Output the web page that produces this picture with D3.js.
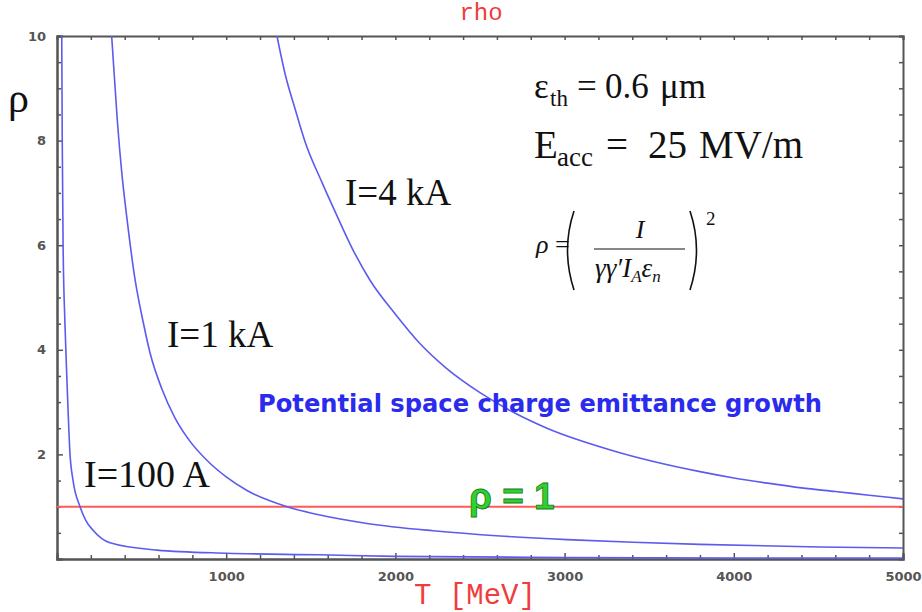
<!DOCTYPE html>
<html>
    <head>
        <script src="https://d3js.org/d3.v7.min.js"></script>
        <style>
            body {
                margin: 0;
                overflow: hidden;
                background: #fff;
            }
            .tick text {
                font-family: 'DejaVu Sans', sans-serif;
                font-weight: bold;
                font-size: 13px;
                fill: #555;
            }
            .domain, .tick line {
                stroke: #555;
            }
        </style>
    </head>
    <body>
        <script>
            // values
            const xMajor = [1000, 2000, 3000, 4000, 5000];
            const yMajor = [2, 4, 6, 8, 10];

            const T100 = [28, 31, 36, 47, 59, 77, 95, 136, 170, 213, 313, 591, 1004, 1554, 2000, 3000, 4000, 5000];
            const rho100 = [10, 8, 6, 4.5, 3.4, 2.0, 1.5, 1.0, 0.74, 0.55, 0.31, 0.17, 0.11, 0.08, 0.05, 0.03, 0.02, 0.02];

            const T1k = [323, 355, 384, 412, 461, 508, 550, 620, 697, 768, 904, 1000, 1123, 1360, 1554, 1832, 2222, 2618, 3014, 3404, 3800, 4510, 5000];
            const rho1k = [10, 8.45, 7.35, 6.55, 5.35, 4.55, 3.94, 3.25, 2.7, 2.33, 1.83, 1.57, 1.31, 1.0, 0.84, 0.68, 0.54, 0.44, 0.37, 0.32, 0.28, 0.23, 0.21];

            const T4k = [1300, 1350, 1406, 1466, 1566, 1655, 1743, 1850, 2000, 2145, 2300, 2500, 2700, 2896, 3286, 3800, 4000, 4200, 4400, 4600, 4800, 5000];
            const rho4k = [10, 9.25, 8.62, 7.98, 7.2, 6.56, 5.95, 5.33, 4.68, 4.12, 3.65, 3.18, 2.8, 2.5, 2.07, 1.67, 1.55, 1.45, 1.36, 1.29, 1.22, 1.15];

            const rhoLimit = [1, 1];
            const limitT = [0, 5000];

            const width = 922;
            const height = 612;
            const margin = { top: 36, right: 19, bottom: 53, left: 57 };

            const svg = d3.select('body').append('svg').attr('width', width).attr('height', height);

            const x = d3.scaleLinear().domain([0, 5000]).range([margin.left, width - margin.right]);
            const y = d3.scaleLinear().domain([0, 10]).range([height - margin.bottom, margin.top]);

            svg.append('defs').append('clipPath').attr('id', 'plot')
                .append('rect')
                .attr('x', margin.left).attr('y', margin.top)
                .attr('width', width - margin.left - margin.right)
                .attr('height', height - margin.top - margin.bottom);

            const xMinor = d3.range(200, 5000, 200).filter((v) => v % 1000 !== 0);
            const yMinor = d3.range(0.5, 10, 0.5).filter((v) => v % 2 !== 0);

            // frame with inward ticks on all four sides
            const frame = svg.append('g');
            frame.append('g').attr('transform', `translate(0,${y(0)})`)
                .call(d3.axisBottom(x).tickValues(xMajor).tickSize(-6).tickPadding(13).tickFormat(d3.format('d')));
            frame.append('g').attr('transform', `translate(0,${y(0)})`)
                .call(d3.axisBottom(x).tickValues(xMinor).tickSize(-4).tickFormat(''));
            frame.append('g').attr('transform', `translate(0,${y(10)})`)
                .call(d3.axisTop(x).tickValues(xMajor.concat(xMinor)).tickSize(-4).tickFormat(''));
            frame.append('g').attr('transform', `translate(${x(0)},0)`)
                .call(d3.axisLeft(y).tickValues(yMajor).tickSize(-6).tickPadding(11).tickFormat(d3.format('d')));
            frame.append('g').attr('transform', `translate(${x(0)},0)`)
                .call(d3.axisLeft(y).tickValues(yMinor).tickSize(-4).tickFormat(''));
            frame.append('g').attr('transform', `translate(${x(5000)},0)`)
                .call(d3.axisRight(y).tickValues(yMajor.concat(yMinor)).tickSize(-4).tickFormat(''));
            frame.selectAll('.domain').attr('stroke-width', 2);
            frame.selectAll('.tick line').attr('stroke-width', 1.5);

            const plot = svg.append('g').attr('clip-path', 'url(#plot)');

            plot.append('path')
                .datum(limitT.map((t, i) => [t, rhoLimit[i]]))
                .attr('fill', 'none')
                .attr('stroke', '#ff5a5a')
                .attr('stroke-width', 2)
                .attr('d', d3.line().x((d) => x(d[0])).y((d) => y(d[1])));

            const curve = d3.line().x((d) => x(d[0])).y((d) => y(d[1])).curve(d3.curveMonotoneX);
            [[T100, rho100], [T1k, rho1k], [T4k, rho4k]].forEach(([ts, rs]) => {
                plot.append('path')
                    .datum(ts.map((t, i) => [t, rs[i]]))
                    .attr('fill', 'none')
                    .attr('stroke', '#5b5bf0')
                    .attr('stroke-width', 1.6)
                    .attr('d', curve);
            });

            // titles
            svg.append('text').attr('x', 481).attr('y', 20).attr('text-anchor', 'middle')
                .style('font-family', "'Liberation Mono', monospace").style('font-size', '24px').attr('fill', '#f03c3c')
                .text('rho');
            svg.append('text').attr('x', 475).attr('y', 604).attr('text-anchor', 'middle')
                .style('font-family', "'Liberation Mono', monospace").style('font-size', '29px').attr('fill', '#f03c3c')
                .text('T [MeV]');
            svg.append('text').attr('x', 8).attr('y', 112)
                .style('font-family', "'Liberation Serif', serif").style('font-size', '42px').attr('fill', '#111')
                .text('ρ');

            const serif = (sel, size) => sel.style('font-family', "'Liberation Serif', serif").style('font-size', size).attr('fill', '#111');

            // curve labels
            serif(svg.append('text').attr('x', 345).attr('y', 205), '37px').text('I=4 kA');
            serif(svg.append('text').attr('x', 167).attr('y', 347), '37px').text('I=1 kA');
            serif(svg.append('text').attr('x', 84).attr('y', 487), '38px').text('I=100 A');

            // parameters
            const eps = serif(svg.append('text').attr('y', 98), '35px');
            eps.append('tspan').attr('x', 534).text('ε');
            eps.append('tspan').attr('x', 550).attr('dy', 8).style('font-size', '23px').text('th');
            eps.append('tspan').attr('x', 577).attr('dy', -8).text('=');
            eps.append('tspan').attr('x', 605).text('0.6');
            eps.append('tspan').attr('x', 660).text('μm');

            const eacc = serif(svg.append('text').attr('y', 158), '39px');
            eacc.append('tspan').attr('x', 534).text('E');
            eacc.append('tspan').attr('x', 557).attr('dy', 8).style('font-size', '27px').text('acc');
            eacc.append('tspan').attr('x', 606).attr('dy', -8).text('=');
            eacc.append('tspan').attr('x', 648).text('25');
            eacc.append('tspan').attr('x', 699).text('MV/m');

            // formula
            const f = svg.append('g').style('font-family', "'Liberation Serif', serif").attr('fill', '#111');
            f.append('text').attr('x', 536).attr('y', 253).style('font-size', '26px').style('font-style', 'italic').text('ρ');
            f.append('text').attr('x', 555).attr('y', 253).style('font-size', '26px').text('=');
            f.append('path').attr('d', 'M574,211 Q561,250 574,290')
                .attr('fill', 'none').attr('stroke', '#111').attr('stroke-width', 1.6);
            f.append('path').attr('d', 'M690,211 Q703,250 690,290')
                .attr('fill', 'none').attr('stroke', '#111').attr('stroke-width', 1.6);
            f.append('text').attr('x', 706).attr('y', 225).style('font-size', '19px').text('2');
            f.append('text').attr('x', 640).attr('y', 238).attr('text-anchor', 'middle')
                .style('font-size', '26px').style('font-style', 'italic').text('I');
            f.append('line').attr('x1', 594).attr('x2', 685).attr('y1', 249).attr('y2', 249)
                .attr('stroke', '#111').attr('stroke-width', 1.2);
            const den = f.append('text').attr('x', 595).attr('y', 277).style('font-size', '27px').style('font-style', 'italic');
            den.append('tspan').text('γγ′I');
            den.append('tspan').attr('dy', 5).style('font-size', '17px').text('A');
            den.append('tspan').attr('dy', -5).text('ε');
            den.append('tspan').attr('dy', 5).style('font-size', '17px').text('n');

            // notes
            svg.append('text').attr('x', 258).attr('y', 412)
                .attr('textLength', 564).attr('lengthAdjust', 'spacingAndGlyphs')
                .style('font-family', "'Comic Sans MS', 'DejaVu Sans', sans-serif").style('font-weight', 'bold')
                .style('font-size', '25px').attr('fill', '#2b2bee')
                .text('Potential space charge emittance growth');

            svg.append('text').attr('x', 469).attr('y', 509)
                .style('font-family', "'Liberation Sans', sans-serif").style('font-weight', 'bold')
                .style('font-size', '37px').attr('fill', '#2fd02f')
                .attr('stroke', '#1b7a1b').attr('stroke-width', 0.8)
                .text('ρ = 1');
        </script>
    </body>
</html>
